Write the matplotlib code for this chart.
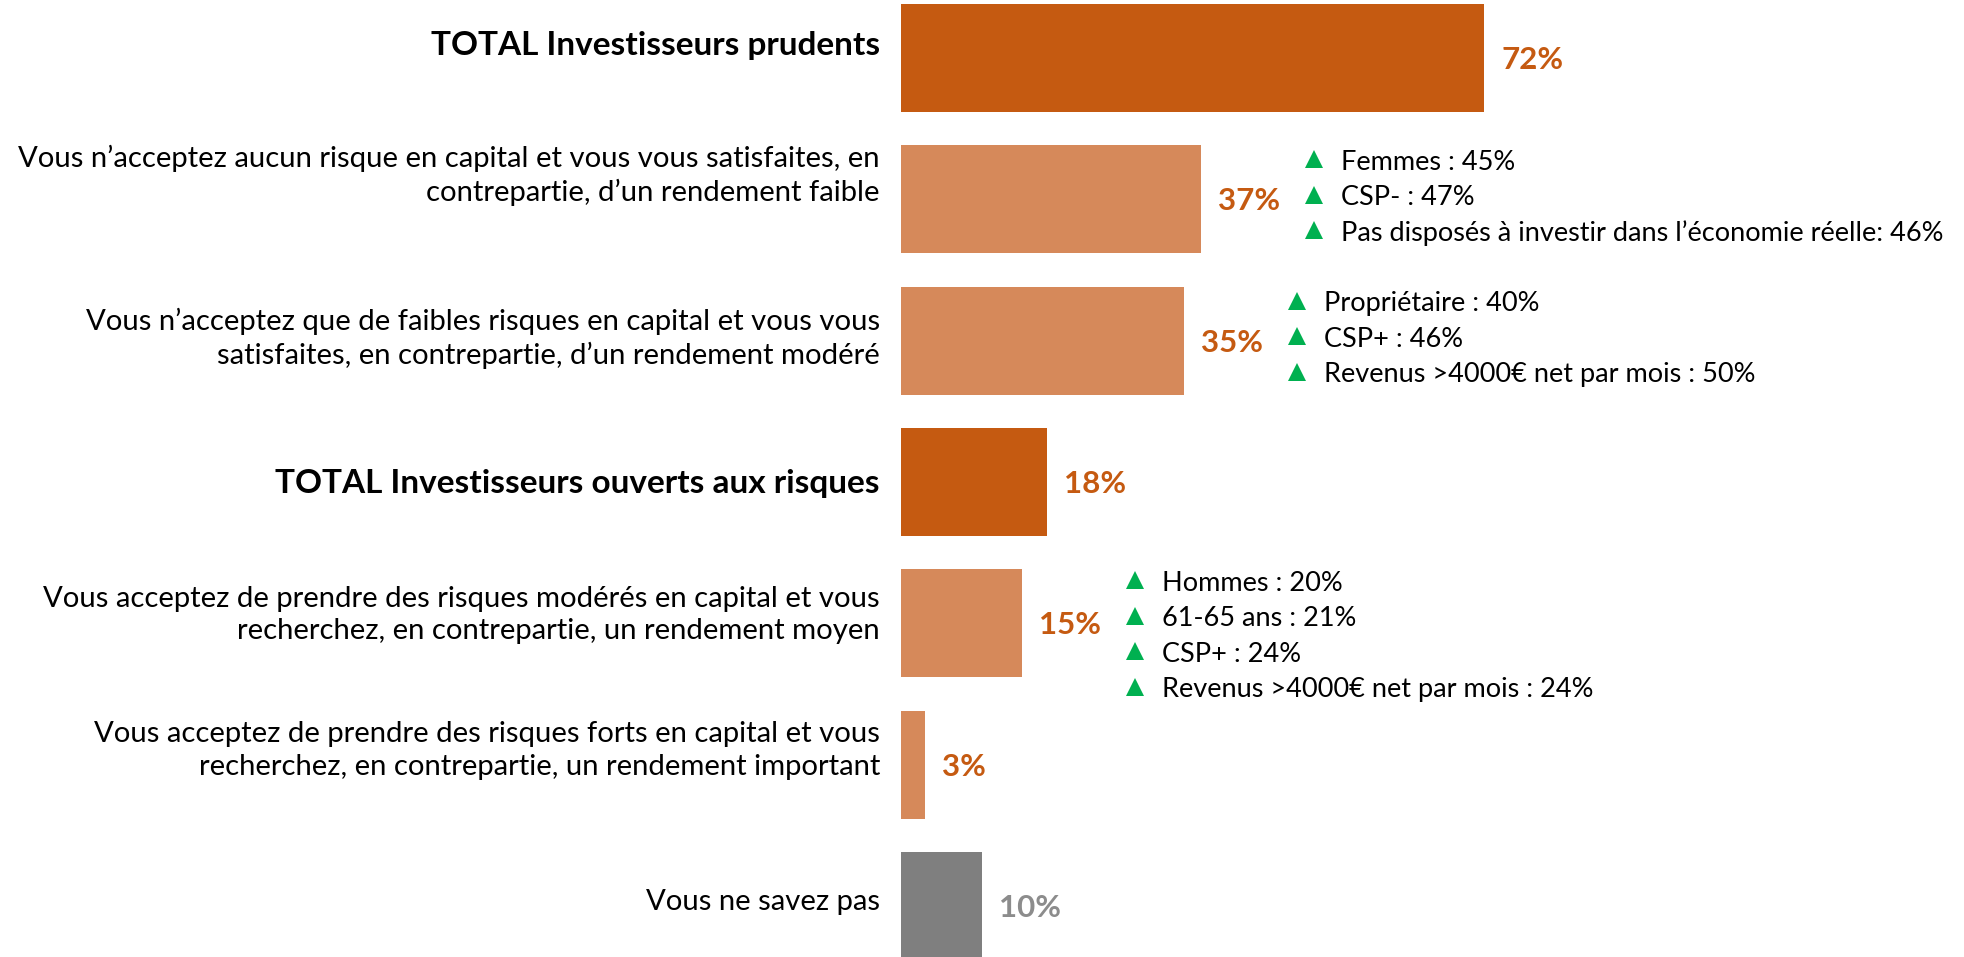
import matplotlib
matplotlib.use("Agg")
import matplotlib.pyplot as plt

plt.rcParams['font.family'] = ['Lato', 'DejaVu Sans']

# data
labels = [
    "TOTAL Investisseurs prudents",
    "Vous n’acceptez aucun risque en capital et vous vous satisfaites, en\ncontrepartie, d’un rendement faible",
    "Vous n’acceptez que de faibles risques en capital et vous vous\nsatisfaites, en contrepartie, d’un rendement modéré",
    "TOTAL Investisseurs ouverts aux risques",
    "Vous acceptez de prendre des risques modérés en capital et vous\nrecherchez, en contrepartie, un rendement moyen",
    "Vous acceptez de prendre des risques forts en capital et vous\nrecherchez, en contrepartie, un rendement important",
    "Vous ne savez pas",
]
values = [72, 37, 35, 18, 15, 3, 10]
kinds = ["total", "sub", "sub", "total", "sub", "sub", "nsp"]
notes = {
    1: ["Femmes : 45%", "CSP- : 47%", "Pas disposés à investir dans l’économie réelle: 46%"],
    2: ["Propriétaire : 40%", "CSP+ : 46%", "Revenus >4000€ net par mois : 50%"],
    4: ["Hommes : 20%", "61-65 ans : 21%", "CSP+ : 24%", "Revenus >4000€ net par mois : 24%"],
}

bar_col = {"total": "#C55A11", "sub": "#D6895A", "nsp": "#7F7F7F"}
val_col = {"total": "#C55A11", "sub": "#C55A11", "nsp": "#8C8C8C"}
green = "#00B050"

W, H = 1965, 957
fig = plt.figure(figsize=(W / 100, H / 100), dpi=100)
ax = fig.add_axes([0, 0, 1, 1])

# pixel scale of the layout
x0_px, px_per_pct = 901, 8.1
y0_px, pitch_px = 58, 141.3
ax.set_xlim(-x0_px / px_per_pct, (W - x0_px) / px_per_pct)
ax.set_ylim((H - y0_px) / pitch_px, -y0_px / pitch_px)
ax.axis("off")

def dx(px):
    return px / px_per_pct

def dy(px):
    return px / pitch_px

renderer = fig.canvas.get_renderer()

def fit(txt, target, **kw):
    t = fig.text(0, 0, txt, fontsize=20, **kw)
    w = t.get_window_extent(renderer).width
    t.remove()
    return 20 * target / w

fs_lab = fit(labels[1].split("\n")[0], 865)
fs_bold = fit(labels[0], 450, weight="bold")
fs_note = fit(notes[1][2], 604)
fs_val = fit("72%", 62, weight="bold")

ypos = list(range(len(values)))
ax.barh(ypos, values, height=dy(108), color=[bar_col[k] for k in kinds], left=0)

lab_dy = [-12, -24, -2, 2, -8, -14, -4]
for i, (lab, v, k) in enumerate(zip(labels, values, kinds)):
    bold = k == "total"
    fs = fs_bold if bold else fs_lab
    ax.text(dx(-21), i + dy(lab_dy[i]), lab, ha="right", va="center",
            multialignment="right", fontsize=fs,
            fontweight="bold" if bold else "normal", color="black",
            linespacing=38 / (fs * 100 / 72))
    ax.text(v + dx(17), i + dy(2), f"{v}%", ha="left", va="center",
            fontsize=fs_val, fontweight="bold", color=val_col[k])

for i, lines in notes.items():
    xt = values[i] + dx(113)
    first = -37 if len(lines) == 3 else -40
    for j, line in enumerate(lines):
        yl = i + dy(first + 35.5 * j)
        ax.plot(xt, yl - dy(3), marker="^", color=green, markersize=12.5,
                markeredgewidth=0, linestyle="none")
        ax.text(xt + dx(27), yl, line, ha="left", va="center",
                fontsize=fs_note, color="black")

fig.savefig("out.png", dpi=100)
